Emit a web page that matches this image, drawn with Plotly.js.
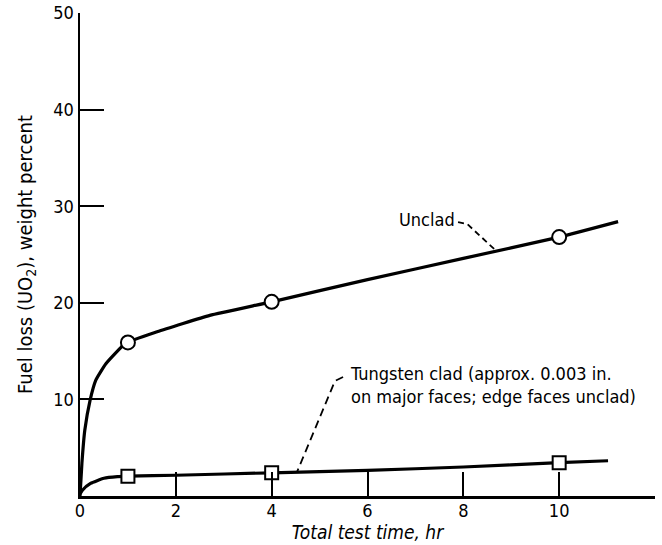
<!DOCTYPE html>
<html>
<head>
<meta charset="utf-8">
<script src="https://cdn.plot.ly/plotly-3.0.1.min.js"></script>
<style>html,body{margin:0;padding:0;background:#fff;}#chart{width:662px;height:545px;}</style>
</head>
<body>
<div id="chart"></div>
<script>
// Curve (Unclad)
const uncladCurveX = [0, 0.04, 0.10, 0.21, 0.33, 0.54, 0.95, 1.61, 2.71, 4.0, 6.0, 8.0, 10.0, 11.23];
const uncladCurveY = [0, 3.4, 6.8, 9.9, 12.0, 13.7, 15.8, 17.0, 18.7, 20.1, 22.4, 24.6, 26.8, 28.4];
const uncladPointsX = [1, 4, 10];
const uncladPointsY = [15.9, 20.1, 26.8];
// Tungsten clad
const cladCurveX = [0, 0.05, 0.22, 0.5, 0.78, 1.0, 2.0, 4.0, 6.0, 8.0, 10.0, 11.02];
const cladCurveY = [0.2, 0.6, 1.3, 1.83, 2.0, 2.05, 2.15, 2.4, 2.65, 3.0, 3.45, 3.65];
const cladPointsX = [1, 4, 10];
const cladPointsY = [2.05, 2.4, 3.45];
const xTicks = [0, 2, 4, 6, 8, 10, 12];
const yTicks = [10, 20, 30, 40, 50];
const xTitle = '<i>Total test time, hr</i>';
const yTitle = 'Fuel loss (UO<sub>2</sub>), weight percent';
const uncladLabel = 'Unclad';
const cladLabel = 'Tungsten clad (approx. 0.003 in.<br>on major faces; edge faces unclad)';

const FONT = '"DejaVu Sans Condensed", "DejaVu Sans", sans-serif';

const traces = [
  {x: uncladCurveX, y: uncladCurveY, mode: 'lines', line: {color: '#000', width: 3.2, shape: 'spline', smoothing: 0.4}, hoverinfo: 'skip'},
  {x: cladCurveX, y: cladCurveY, mode: 'lines', line: {color: '#000', width: 3.2, shape: 'spline', smoothing: 0.5}, hoverinfo: 'skip'},
  {x: uncladPointsX, y: uncladPointsY, mode: 'markers', marker: {symbol: 'circle', size: 14, color: '#fff', line: {color: '#000', width: 2}}},
  {x: cladPointsX, y: cladPointsY, mode: 'markers', marker: {symbol: 'square', size: 13, color: '#fff', line: {color: '#000', width: 2}}}
];

const layout = {
  width: 662, height: 545,
  margin: {l: 80, r: 7, t: 13, b: 49},
  paper_bgcolor: '#fff', plot_bgcolor: '#fff',
  showlegend: false,
  font: {family: FONT, size: 18, color: '#000'},
  xaxis: {
    range: [0, 12], tickvals: xTicks, ticktext: xTicks.map(String),
    showline: true, linecolor: '#000', linewidth: 2.5, mirror: false,
    ticks: 'inside', ticklen: 24, tickwidth: 2, tickcolor: '#000',
    showgrid: false, zeroline: false,
    ticklabelstandoff: -3,
    tickfont: {family: FONT, size: 18, color: '#000'},
    title: {text: xTitle, font: {family: FONT, size: 19, color: '#000'}, standoff: 0}
  },
  yaxis: {
    range: [0, 50], tickvals: yTicks, ticktext: yTicks.map(String),
    showline: true, linecolor: '#000', linewidth: 2.5, mirror: false,
    ticks: 'inside', ticklen: 24, tickwidth: 2, tickcolor: '#000',
    showgrid: false, zeroline: false,
    tickfont: {family: FONT, size: 18, color: '#000'},
    ticklabelstandoff: 0,
    title: {text: yTitle, font: {family: FONT, size: 20, color: '#000'}, standoff: 16}
  },
  annotations: [
    {x: 7.25, y: 28.6, xref: 'x', yref: 'y', text: uncladLabel, showarrow: false, xanchor: 'center', yanchor: 'middle', font: {family: FONT, size: 18, color: '#000'}},
    {x: 5.6, y: 11.5, xref: 'x', yref: 'y', text: cladLabel, showarrow: false, xanchor: 'left', yanchor: 'middle', align: 'left', font: {family: FONT, size: 18, color: '#000'}}
  ],
  shapes: [
    {type: 'path', xref: 'x', yref: 'y', path: 'M 7.89 28.36 L 8.08 28.16 L 8.66 25.5', line: {color: '#000', width: 1.8, dash: '6px,4px'}},
    {type: 'path', xref: 'x', yref: 'y', path: 'M 5.49 12.32 L 5.32 11.9 L 4.53 2.5', line: {color: '#000', width: 1.8, dash: '8px,5px'}}
  ]
};

Plotly.newPlot('chart', traces, layout, {staticPlot: true, displayModeBar: false});
</script>
</body>
</html>
